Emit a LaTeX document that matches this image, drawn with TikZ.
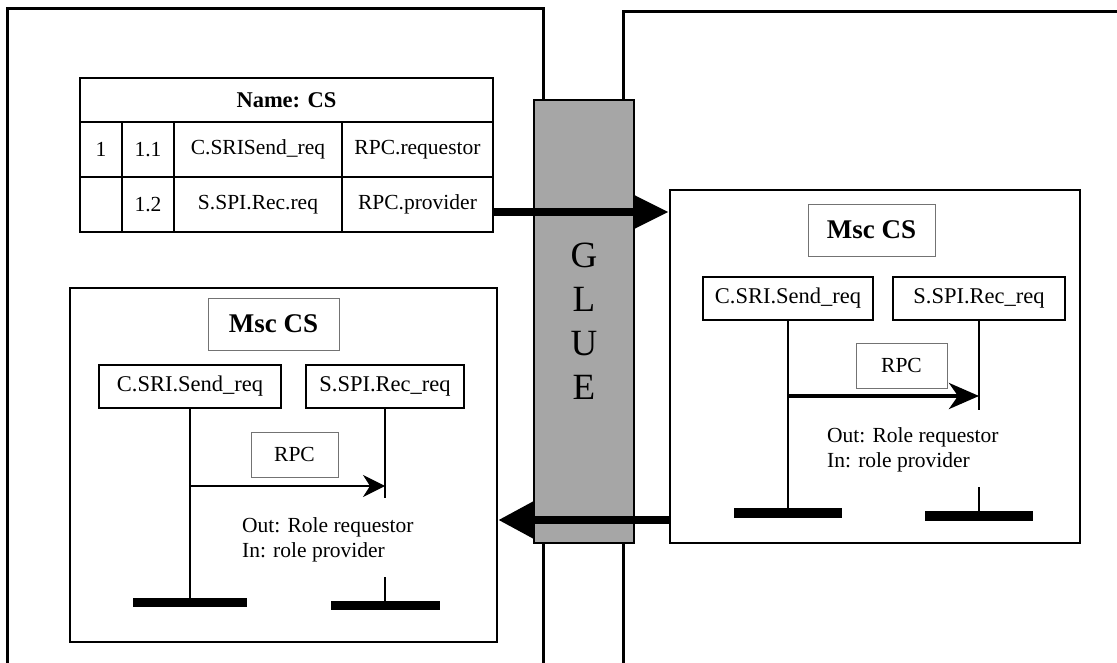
\documentclass[tikz,border=0pt]{standalone}
\usepackage{fontspec}
\setmainfont{Liberation Serif}
\usetikzlibrary{arrows.meta}
\begin{document}
\begin{tikzpicture}[x=1pt,y=-1pt,
  panel/.style={line width=3pt},
  cell/.style={draw, line width=2.4pt, inner sep=0pt, font=\fontsize{21.5}{24}\selectfont},
  glue/.style={draw, line width=2pt, fill=black!35, minimum width=100pt, minimum height=443pt, inner sep=0pt, align=center, font=\fontsize{37}{44}\selectfont},
  mscbox/.style={draw, line width=2.5pt, fill=white, inner sep=0pt},
  bigarrow/.style={line width=8pt, -{Triangle[length=35pt,width=32pt]}},
  lbox/.style={draw, line width=2.5pt, fill=white, inner sep=0pt, minimum height=43pt, font=\fontsize{22.5}{24}\selectfont},
  titlebox/.style={draw=black!55, line width=0.8pt, inner sep=0pt, minimum height=52pt, font=\fontsize{27}{30}\selectfont\bfseries},
  rpcbox/.style={draw=black!55, line width=0.8pt, inner sep=0pt, minimum height=45pt, font=\fontsize{21.5}{24}\selectfont},
  bar/.style={fill=black, inner sep=0pt, minimum height=9pt},
  lifeline/.style={line width=2pt},
  note/.style={anchor=west, align=left, inner sep=0pt, font=\fontsize{21.5}{25}\selectfont},
  lmsg/.style={line width=1.5pt, -{Stealth[length=22pt,width=22pt,inset=7pt]}},
  rmsg/.style={line width=4pt, -{Stealth[length=30pt,width=26pt,inset=9pt]}}
]
\useasboundingbox (0,0) rectangle (1117,663);
% panels
\draw[panel] (7,663) -- (7,9) -- (543,9) -- (543,663);
\draw[panel] (623,663) -- (623,12) -- (1117,12);
% table
\node[cell, minimum width=413pt, minimum height=44pt, font=\fontsize{22.5}{24}\selectfont\bfseries] (thead) at (286.5,100) {Name: CS};
\node[cell, minimum width=42pt, minimum height=55pt] (t11) at (101,149.5) {1};
\node[cell, minimum width=52pt, minimum height=55pt] (t12) at (148,149.5) {1.1};
\node[cell, minimum width=168pt, minimum height=55pt] (t13) at (258,149.5) {C.SRISend\_req};
\node[cell, minimum width=151pt, minimum height=55pt] (t14) at (417.5,149.5) {RPC.requestor};
\node[cell, minimum width=42pt, minimum height=55pt] (t21) at (101,204.5) {};
\node[cell, minimum width=52pt, minimum height=55pt] (t22) at (148,204.5) {1.2};
\node[cell, minimum width=168pt, minimum height=55pt] (t23) at (258,204.5) {S.SPI.Rec.req};
\node[cell, minimum width=151pt, minimum height=55pt] (t24) at (417.5,204.5) {RPC.provider};
% glue
\node[glue] (glue) at (584,321.5) {G\\L\\U\\E};
% msc frames
\node[mscbox, minimum width=410pt, minimum height=353pt] (rmsc) at (875,366.5) {};
\node[mscbox, minimum width=427pt, minimum height=354pt] (lmsc) at (283.5,465) {};
% big arrows
\coordinate (fwd) at (600,212);
\coordinate (ret) at (600,520);
\draw[bigarrow] (fwd -| t24.east) -- (fwd -| rmsc.west);
\draw[line width=8pt, -{Triangle[length=36pt,width=36pt]}] (ret -| rmsc.west) -- (ret -| lmsc.east);
% left MSC content
\node[titlebox, minimum width=131pt] (ltitle) at (273.5,324) {Msc CS};
\node[lbox, minimum width=182pt] (lC) at (190,386.5) {C.SRI.Send\_req};
\node[lbox, minimum width=158pt] (lS) at (385,386.5) {S.SPI.Rec\_req};
\node[bar, minimum width=114pt] (lCbar) at (190,602.5) {};
\node[bar, minimum width=109pt] (lSbar) at (385,605.5) {};
\node[rpcbox, minimum width=87pt] (lrpc) at (294.5,454.5) {RPC};
\coordinate (lSend) at (385,498);
\coordinate (lSre) at (385,577);
\draw[lifeline] (lC.south) -- (lCbar.north);
\draw[lifeline] (lS.south) -- (lSend);
\draw[lifeline] (lSre) -- (lSbar.north);
\coordinate (lm) at (0,486);
\draw[lmsg] (lm -| lC.south) -- (lm -| lS.south);
\node[note] (lnote) at (242,539.5) {Out: Role requestor\\In: role provider};
% right MSC content
\node[titlebox, minimum width=127pt] (rtitle) at (871.5,230) {Msc CS};
\node[lbox, minimum width=170pt] (rC) at (788,298.5) {C.SRI.Send\_req};
\node[lbox, minimum width=172pt] (rS) at (979,298.5) {S.SPI.Rec\_req};
\node[bar, minimum width=108pt, minimum height=10pt] (rCbar) at (788,513) {};
\node[bar, minimum width=108pt, minimum height=10pt] (rSbar) at (979,516) {};
\node[rpcbox, minimum width=91pt] (rrpc) at (901.5,365.5) {RPC};
\coordinate (rSend) at (979,410);
\coordinate (rSre) at (979,487);
\draw[lifeline] (rC.south) -- (rCbar.north);
\draw[lifeline] (rS.south) -- (rSend);
\draw[lifeline] (rSre) -- (rSbar.north);
\coordinate (rm) at (0,396);
\draw[rmsg] (rm -| rC.south) -- (rm -| rS.south);
\node[note] (rnote) at (827,450) {Out: Role requestor\\In: role provider};
\end{tikzpicture}
\end{document}
